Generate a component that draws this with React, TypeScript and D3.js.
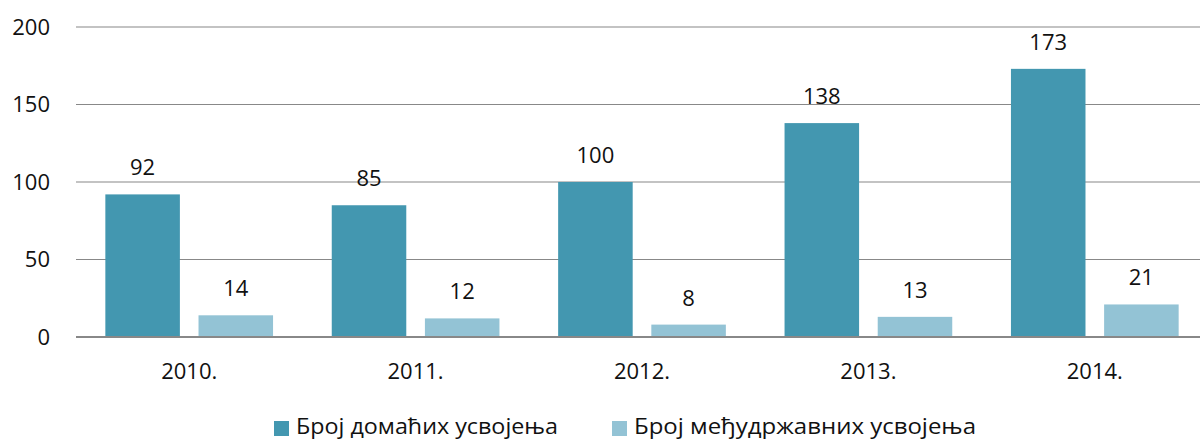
import React from "react";
import * as d3 from "d3";

const categories = ["2010.", "2011.", "2012.", "2013.", "2014."];
const domestic = [92, 85, 100, 138, 173];
const international = [14, 12, 8, 13, 21];
const seriesNames = ["Број домаћих усвојења", "Број међудржавних усвојења"];
const yTicks = [0, 50, 100, 150, 200];
const colors = ["#4397B0", "#93C3D5"];

const W = 1200;
const H = 441;
const FONT = "'Open Sans', sans-serif";

export default function App() {
  const x = d3.scaleBand<string>().domain(categories).range([76, 1208]).paddingInner(0).paddingOuter(0);
  const inner = d3.scaleBand<number>().domain([0, 1]).range([0, x.bandwidth()]).paddingInner(0.2).paddingOuter(0.315);
  const y = d3.scaleLinear().domain([0, 200]).range([337, 27]);
  const series = [domestic, international];
  const legendX = [274, 612];
  const legendLen = [262, 342];

  return (
    <svg width={W} height={H} style={{ position: "absolute", left: 0, top: 0, background: "#fff" }}>
      {yTicks.map((t) => (
        <g key={t}>
          <line x1={76} x2={W} y1={y(t)} y2={y(t)} stroke="#888" strokeWidth={t === 0 ? 2 : 1.2} />
          <text x={50} y={y(t)} dy="0.35em" textAnchor="end" fontFamily={FONT} fontSize={22} fill="#111">
            {t}
          </text>
        </g>
      ))}
      {categories.map((c, i) => (
        <g key={c} transform={`translate(${x(c)},0)`}>
          {series.map((s, k) => (
            <g key={k}>
              <rect
                x={inner(k)}
                y={y(s[i])}
                width={inner.bandwidth()}
                height={y(0) - y(s[i]) - 1}
                fill={colors[k]}
              />
              <text
                x={(inner(k) as number) + inner.bandwidth() / 2}
                y={y(s[i]) - 19}
                textAnchor="middle"
                fontFamily={FONT}
                fontSize={22}
                fill="#111"
              >
                {s[i]}
              </text>
            </g>
          ))}
          <text x={x.bandwidth() / 2} y={379} textAnchor="middle" fontFamily={FONT} fontSize={22} fill="#111">
            {c}
          </text>
        </g>
      ))}
      {seriesNames.map((n, k) => {
        const lx = legendX[k];
        return (
          <g key={n}>
            <rect x={lx} y={421} width={15} height={15} fill={colors[k]} />
            <text
              x={lx + 22}
              y={434}
              fontFamily={FONT}
              fontSize={22}
              fill="#111"
              textLength={legendLen[k]}
              lengthAdjust="spacingAndGlyphs"
            >
              {n}
            </text>
          </g>
        );
      })}
    </svg>
  );
}
